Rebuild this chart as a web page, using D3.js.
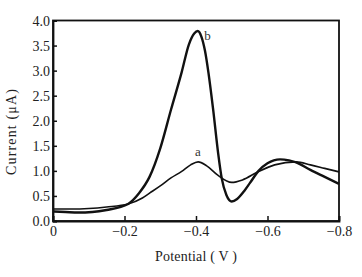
<!DOCTYPE html>
<html><head><meta charset="utf-8">
<script src="https://cdn.jsdelivr.net/npm/d3@7"></script>
<style>body{margin:0;background:#fff}svg{display:block}</style>
</head><body>
<script>
const potentialA = [0,-0.05,-0.1,-0.15,-0.21,-0.25,-0.271,-0.3,-0.33,-0.36,-0.385,-0.406,-0.43,-0.46,-0.5,-0.53,-0.573,-0.62,-0.68,-0.72,-0.76,-0.8];
const currentA   = [0.24,0.24,0.25,0.28,0.34,0.46,0.56,0.70,0.86,0.99,1.12,1.18,1.10,0.92,0.77,0.82,0.98,1.12,1.18,1.12,1.05,0.98];
const potentialB = [0,-0.035,-0.07,-0.11,-0.15,-0.21,-0.24,-0.27,-0.3,-0.33,-0.36,-0.38,-0.395,-0.405,-0.415,-0.425,-0.435,-0.448,-0.462,-0.472,-0.485,-0.5,-0.515,-0.535,-0.551,-0.575,-0.6,-0.635,-0.66,-0.68,-0.72,-0.76,-0.8];
const currentB   = [0.19,0.18,0.17,0.18,0.22,0.34,0.55,0.88,1.45,2.22,2.97,3.52,3.74,3.79,3.68,3.40,2.95,2.22,1.35,0.85,0.52,0.39,0.44,0.60,0.76,1.0,1.15,1.23,1.21,1.17,1.02,0.88,0.74];
const xTicks = [0,-0.2,-0.4,-0.6,-0.8];
const xTickLabels = ["0","\u22120.2","\u22120.4","\u22120.6","\u22120.8"];
const yTicks = [0,0.5,1,1.5,2,2.5,3,3.5,4];
const yTickLabels = ["0.0","0.5","1.0","1.5","2.0","2.5","3.0","3.5","4.0"];

const W=362,H=277, L=53,R=339,T=20.5,B=221;
const svg=d3.select("body").append("svg").attr("width",W).attr("height",H);
const x=d3.scaleLinear().domain([0,-0.8]).range([L,R]);
const y=d3.scaleLinear().domain([0,4]).range([B,T]);
const font="'Liberation Serif','Times New Roman',serif";

svg.append("rect").attr("x",L).attr("y",T).attr("width",R-L).attr("height",B-T)
  .attr("fill","none").attr("stroke","#111").attr("stroke-width",1.8);

const xa=svg.append("g").attr("transform",`translate(0,${B})`)
  .call(d3.axisBottom(x).tickValues(xTicks).tickSize(-5).tickPadding(8).tickFormat((d,i)=>xTickLabels[i]));
const ya=svg.append("g").attr("transform",`translate(${L},0)`)
  .call(d3.axisLeft(y).tickValues(yTicks).tickSize(-4).tickPadding(3).tickFormat((d,i)=>yTickLabels[i]));
[xa,ya].forEach(a=>{
  a.select(".domain").attr("stroke","#111").attr("stroke-width",1.8);
  a.selectAll(".tick line").attr("stroke","#111").attr("stroke-width",1.5);
  a.selectAll("text").attr("font-family",font).attr("font-size",14).attr("fill","#222");
});
xa.selectAll(".tick text").attr("dy","0.5em");
ya.selectAll(".tick text").attr("dy","0.35em");

const line=d3.line().curve(d3.curveMonotoneX).x(d=>x(d[0])).y(d=>y(d[1]));
svg.append("path").datum(potentialA.map((p,i)=>[p,currentA[i]])).attr("d",line)
  .attr("fill","none").attr("stroke","#111").attr("stroke-width",1.6);
svg.append("path").datum(potentialB.map((p,i)=>[p,currentB[i]])).attr("d",line)
  .attr("fill","none").attr("stroke","#111").attr("stroke-width",2.4);

svg.append("text").attr("x",x(-0.405)).attr("y",y(1.18)-6).attr("text-anchor","middle")
  .attr("font-family",font).attr("font-size",13).attr("fill","#333").text("a");
svg.append("text").attr("x",x(-0.432)).attr("y",y(3.79)+9).attr("text-anchor","middle")
  .attr("font-family",font).attr("font-size",13).attr("fill","#333").text("b");

svg.append("text").attr("x",196).attr("y",261).attr("text-anchor","middle")
  .attr("font-family",font).attr("font-size",14).attr("fill","#222")
  .attr("textLength",82).text("Potential ( V )");
svg.append("text").attr("transform","translate(16,132) rotate(-90)").attr("text-anchor","middle")
  .attr("font-family",font).attr("font-size",14).attr("fill","#222")
  .attr("textLength",86).text("Current (\u03bcA)");
</script>
</body></html>
